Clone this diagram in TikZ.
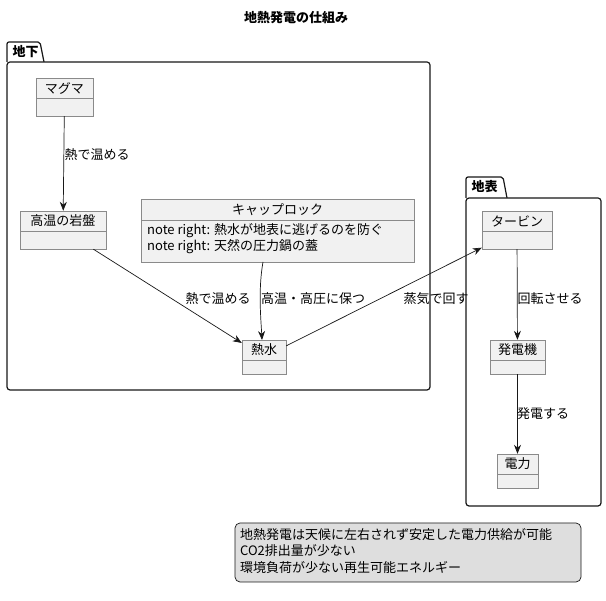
\documentclass[tikz,border=0pt]{standalone}
\usepackage{fontspec}
\setmainfont{Noto Sans CJK JP}
\usetikzlibrary{arrows.meta}
\definecolor{objfill}{HTML}{F1F1F1}
\definecolor{ln}{HTML}{181818}
\definecolor{objln}{HTML}{8A8A8A}
\begin{document}
\begin{tikzpicture}[x=1pt,y=-1pt,font=\fontsize{13}{15}\selectfont,
 obj/.style={draw=objln,fill=objfill,line width=0.7pt},
 pkg/.style={draw=ln,line width=1.2pt,fill=white},
 arr/.style={draw=ln,line width=0.7pt,-{Stealth[length=9pt,width=7pt]}},
 lab/.style={font=\fontsize{13}{15}\selectfont,inner sep=1pt}]
\useasboundingbox (0,0) rectangle (606,601);
\node[font=\bfseries\fontsize{13}{15}\selectfont] (title) at (296,18) {地熱発電の仕組み};
% packages
\draw[pkg,rounded corners=2pt] (7,62) -- (7,42) -- (40,42) -- (44,62);
\draw[pkg,rounded corners=3pt] (7,62) rectangle (430,390);
\node[font=\bfseries\fontsize{13}{15}\selectfont,anchor=west] (pk1) at (9,52) {地下};
\draw[pkg,rounded corners=2pt] (466,198) -- (466,177) -- (503,177) -- (507,198);
\draw[pkg,rounded corners=3pt] (466,198) rectangle (601,506);
\node[font=\bfseries\fontsize{13}{15}\selectfont,anchor=west] (pk2) at (468,187) {地表};
% objects
\newcommand{\objbox}[6]{% name x1 y1 x2 y2 text
 \draw[obj] (#2,#3) rectangle (#4,#5);
 \node[inner sep=0pt] (#1) at ({(#2+#4)/2},{(#3+#5)/2}) [minimum width={#4-#2},minimum height={#5-#3}] {};
 \node at ({(#2+#4)/2},#3+10) {#6};
 \draw[objln,line width=0.7pt] (#2,#3+20) -- (#4,#3+20);}
\objbox{magma}{36}{78}{93}{116}{マグマ}
\objbox{rock}{20}{211}{106}{249}{高温の岩盤}
\objbox{hot}{242}{340}{286}{374}{熱水}
\objbox{turb}{482}{211}{552}{249}{タービン}
\objbox{gen}{490}{340}{545}{374}{発電機}
\objbox{pow}{497}{454}{538}{488}{電力}
\draw[obj] (141,199) rectangle (414,262);
\node[inner sep=0pt,minimum width=273pt,minimum height=63pt] (cap) at (277.5,230.5) {};
\node at (277.5,210) {キャップロック};
\draw[objln,line width=0.7pt] (141,220) -- (414,220);
\node[anchor=north west,align=left,inner sep=0pt,font=\fontsize{13}{16}\selectfont] at (147,223) {note right: 熱水が地表に逃げるのを防ぐ\\note right: 天然の圧力鍋の蓋};
% edges
\draw[arr] (magma) -- (rock);
\node[lab] at (97,155) {熱で温める};
\draw[arr] (rock) -- (hot);
\node[lab] at (218,299) {熱で温める};
\draw[arr] (263,262) .. controls (258,290) and (261,320) .. (262,340);
\node[lab] at (313,299) {高温・高圧に保つ};
\draw[arr] (hot) -- (turb);
\node[lab] at (436,299) {蒸気で回す};
\draw[arr] (turb) -- (gen);
\node[lab] at (550,299) {回転させる};
\draw[arr] (gen) -- (pow);
\node[lab] at (543,414) {発電する};
% note
\draw[ln,fill=black!13,rounded corners=5pt,line width=0.7pt] (235,523) rectangle (581,582);
\node[align=left,anchor=north west,inner sep=0pt,font=\fontsize{13}{16.5}\selectfont] (note) at (240,528) {地熱発電は天候に左右されず安定した電力供給が可能\\CO2排出量が少ない\\環境負荷が少ない再生可能エネルギー};
\end{tikzpicture}
\end{document}
